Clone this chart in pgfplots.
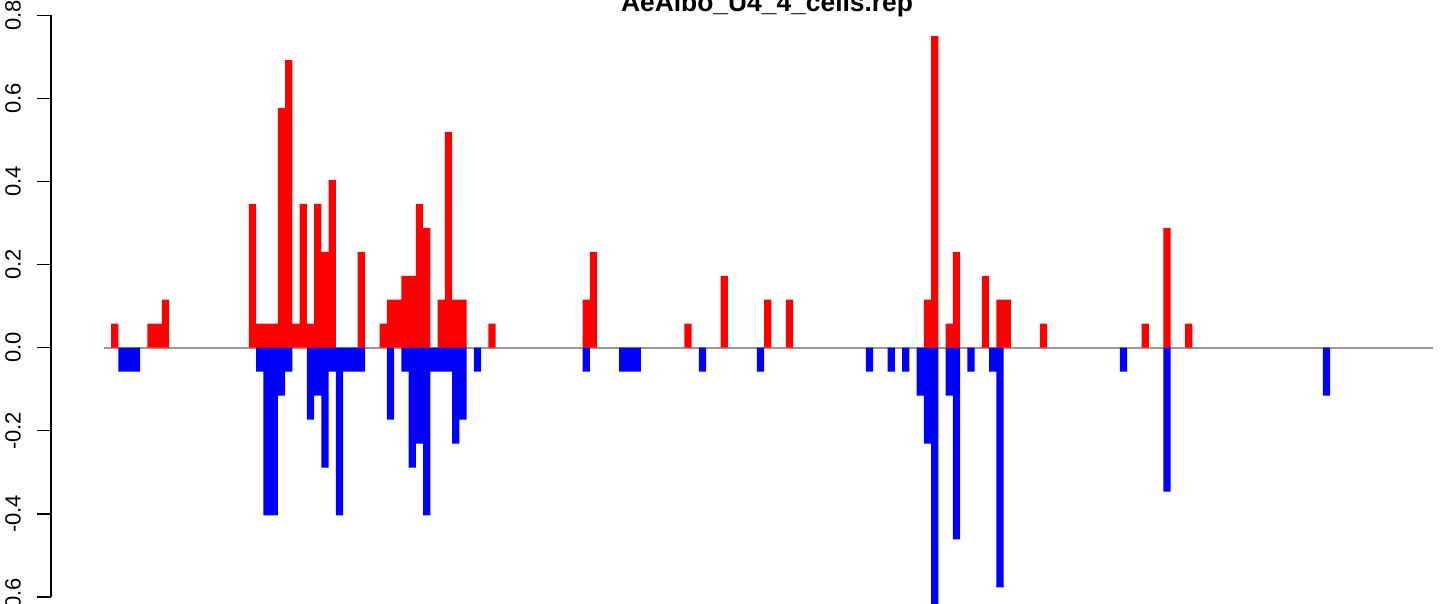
\documentclass[border=0pt]{standalone}
\usepackage{pgfplots}
\pgfplotsset{compat=1.18}
\usepackage{fontspec}
\setmainfont{Liberation Sans}
\definecolor{zline}{RGB}{153,153,153}
\begin{document}
\begin{tikzpicture}
\begin{axis}[
  x=3.6285pt, y=207.75pt,
  xmin=-8.268, xmax=183.68,
  ymin=-0.6, ymax=0.8,
  clip=false,
  axis x line=none,
  axis y line*=left,
  y axis line style={line width=0.7pt},
  ytick={-0.6,-0.4,-0.2,0,0.2,0.4,0.6,0.8},
  yticklabels={-0.6,-0.4,-0.2,0.0,0.2,0.4,0.6,0.8},
  tick align=outside,
  major tick length=7pt,
  ytick style={line width=0.7pt,black},
  yticklabel shift=4.5pt,
  yticklabel style={rotate=90, anchor=south, font=\fontsize{11}{13}\selectfont},
]
\addplot[color=zline, line width=0.9pt, forget plot] coordinates {(-1.03,0) (182.17,0)};
\addplot[ybar, bar width=1, bar shift=0pt, fill={rgb,255:red,255;green,0;blue,0}, draw=none] coordinates {
(0.5,0.0577) (5.5,0.0577) (6.5,0.0577) (7.5,0.1154) (19.5,0.3462) (20.5,0.0577) (21.5,0.0577) (22.5,0.0577) (23.5,0.5769) (24.5,0.6923) (25.5,0.0577) (26.5,0.3462) (27.5,0.0577) (28.5,0.3462) (29.5,0.2308) (30.5,0.4038) (34.5,0.2308) (37.5,0.0577) (38.5,0.1154) (39.5,0.1154) (40.5,0.1731) (41.5,0.1731) (42.5,0.3462) (43.5,0.2885) (45.5,0.1154) (46.5,0.5192) (47.5,0.1154) (48.5,0.1154) (52.5,0.0577) (65.5,0.1154) (66.5,0.2308) (79.5,0.0577) (84.5,0.1731) (90.5,0.1154) (93.5,0.1154) (112.5,0.1154) (113.5,0.75) (115.5,0.0577) (116.5,0.2308) (120.5,0.1731) (122.5,0.1154) (123.5,0.1154) (128.5,0.0577) (142.5,0.0577) (145.5,0.2885) (148.5,0.0577)
};
\addplot[ybar, bar width=1, bar shift=0pt, fill={rgb,255:red,0;green,0;blue,255}, draw=none] coordinates {
(1.5,-0.0577) (2.5,-0.0577) (3.5,-0.0577) (20.5,-0.0577) (21.5,-0.4038) (22.5,-0.4038) (23.5,-0.1154) (24.5,-0.0577) (27.5,-0.1731) (28.5,-0.1154) (29.5,-0.2885) (30.5,-0.0577) (31.5,-0.4038) (32.5,-0.0577) (33.5,-0.0577) (34.5,-0.0577) (38.5,-0.1731) (40.5,-0.0577) (41.5,-0.2885) (42.5,-0.2308) (43.5,-0.4038) (44.5,-0.0577) (45.5,-0.0577) (46.5,-0.0577) (47.5,-0.2308) (48.5,-0.1731) (50.5,-0.0577) (65.5,-0.0577) (70.5,-0.0577) (71.5,-0.0577) (72.5,-0.0577) (81.5,-0.0577) (89.5,-0.0577) (104.5,-0.0577) (107.5,-0.0577) (109.5,-0.0577) (111.5,-0.1154) (112.5,-0.2308) (113.5,-0.6346) (115.5,-0.1154) (116.5,-0.4615) (118.5,-0.0577) (121.5,-0.0577) (122.5,-0.5769) (139.5,-0.0577) (145.5,-0.3462) (167.5,-0.1154)
};
\node[anchor=base, font=\bfseries\fontsize{13.2}{15}\selectfont, inner sep=0pt] at (axis cs:90.4,0.808) {AeAlbo\_U4\_4\_cells.rep};
\coordinate (bbsw) at (axis cs:-15.296,-0.6168);
\coordinate (bbne) at (axis cs:183.68,0.8368);
\end{axis}
\pgfresetboundingbox
\path[use as bounding box] (bbsw) rectangle (bbne);
\end{tikzpicture}
\end{document}
